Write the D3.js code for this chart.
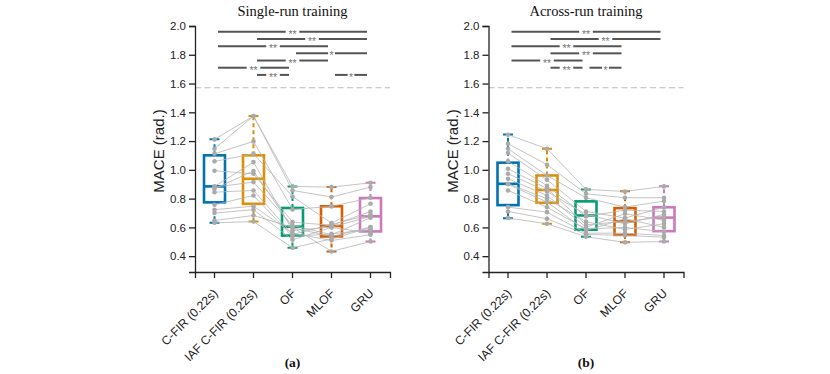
<!DOCTYPE html>
<html>
<head>
<meta charset="utf-8">
<script src="https://cdn.jsdelivr.net/npm/d3@7"></script>
<style>
  body { margin: 0; background: #fff; }
  svg { display: block; font-family: 'Liberation Sans', Arial, sans-serif; }
</style>
</head>
<body>
<div id="chart"></div>
<script>
// categories and tick values
var categories = ['C-FIR (0.22s)', 'IAF C-FIR (0.22s)', 'OF', 'MLOF', 'GRU'];
var yTicks = [0.4, 0.6, 0.8, 1.0, 1.2, 1.4, 1.6, 1.8, 2.0];
var chanceLevel = Math.PI / 2;

// single-run training: one row per subject, one value per category
var singleSubjects = [
    [1.212, 1.374, 0.885, 0.880, 0.910],
    [1.147, 1.374, 0.857, 0.811, 0.880],
    [1.112, 1.198, 0.725, 0.746, 0.806],
    [1.059, 1.112, 0.815, 0.630, 0.764],
    [0.994, 0.973, 0.637, 0.614, 0.711],
    [0.885, 1.054, 0.579, 0.602, 0.676],
    [0.880, 0.915, 0.614, 0.549, 0.667],
    [0.869, 0.992, 0.597, 0.537, 0.602],
    [0.845, 0.857, 0.551, 0.620, 0.690],
    [0.757, 0.822, 0.537, 0.555, 0.586],
    [0.723, 0.748, 0.560, 0.509, 0.549],
    [0.700, 0.723, 0.514, 0.600, 0.560],
    [0.648, 0.683, 0.600, 0.433, 0.502],
    [0.632, 0.641, 0.458, 0.520, 0.600]
];
var singleLow  = [0.632, 0.641, 0.458, 0.433, 0.502];
var singleQ1   = [0.774, 0.764, 0.543, 0.537, 0.572];
var singleMed  = [0.885, 0.938, 0.605, 0.610, 0.677];
var singleQ3   = [1.101, 1.101, 0.735, 0.747, 0.804];
var singleHigh = [1.212, 1.374, 0.885, 0.880, 0.910];
var singleSigPairs  = [[0, 4], [1, 4], [0, 3], [2, 4], [1, 3], [0, 2], [1, 2], [3, 4]];
var singleSigStars  = ['**', '**', '**', '*', '**', '**', '**', '*'];
var singleSigLevels = [1.96, 1.91, 1.86, 1.81, 1.76, 1.71, 1.66, 1.66];

// across-run training
var acrossSubjects = [
    [1.244, 1.147, 0.864, 0.850, 0.885],
    [1.182, 1.036, 0.834, 0.806, 0.806],
    [1.147, 0.961, 0.806, 0.741, 0.783],
    [1.117, 0.931, 0.711, 0.665, 0.740],
    [1.059, 0.890, 0.676, 0.720, 0.711],
    [1.008, 0.870, 0.618, 0.642, 0.672],
    [0.973, 0.850, 0.690, 0.625, 0.690],
    [0.938, 0.822, 0.602, 0.695, 0.650],
    [0.903, 0.799, 0.640, 0.586, 0.625],
    [0.900, 0.776, 0.579, 0.660, 0.600],
    [0.857, 0.740, 0.590, 0.600, 0.570],
    [0.741, 0.706, 0.560, 0.560, 0.544],
    [0.711, 0.660, 0.551, 0.544, 0.532],
    [0.665, 0.625, 0.535, 0.496, 0.502]
];
var acrossLow  = [0.664, 0.625, 0.535, 0.496, 0.502];
var acrossQ1   = [0.755, 0.771, 0.584, 0.548, 0.574];
var acrossMed  = [0.903, 0.860, 0.683, 0.643, 0.668];
var acrossQ3   = [1.050, 0.961, 0.781, 0.734, 0.740];
var acrossHigh = [1.246, 1.147, 0.863, 0.851, 0.886];
var acrossSigPairs  = [[0, 4], [1, 4], [0, 3], [1, 3], [0, 2], [1, 2], [2, 3]];
var acrossSigStars  = ['**', '**', '**', '**', '**', '**', '*'];
var acrossSigLevels = [1.96, 1.91, 1.86, 1.81, 1.76, 1.71, 1.71];

var palette = ['#0173b2', '#de8f05', '#029e73', '#d55e00', '#cc78bc'];

var width = 830, height = 374;
var axisBottom = 272;
var boxW = 21;

var svg = d3.select('#chart')
    .append('svg')
    .attr('width', width)
    .attr('height', height);

var y = d3.scaleLinear().domain([0.29, 2.0]).range([axisBottom, 26]);

function drawPanel(left, title, caption, subjects, low, q1, med, q3, high, sigPairs, sigStars, sigLevels) {
    var x = d3.scaleBand().domain(categories).range([left, left + 195]);
    var cx = function(i) { return x(categories[i]) + x.bandwidth() / 2; };
    var g = svg.append('g');
    var idx = d3.range(categories.length);

    // chance level
    g.append('line')
        .attr('x1', left).attr('x2', left + 195)
        .attr('y1', y(chanceLevel)).attr('y2', y(chanceLevel))
        .attr('stroke', '#bbb').attr('stroke-width', 1.2)
        .attr('stroke-dasharray', '6,3.5');

    // whiskers
    var wh = g.append('g').attr('class', 'whiskers');
    idx.forEach(function(i) {
        [[q3[i], high[i]], [q1[i], low[i]]].forEach(function(p) {
            wh.append('line')
                .attr('x1', cx(i)).attr('x2', cx(i))
                .attr('y1', y(p[0])).attr('y2', y(p[1]))
                .attr('stroke', palette[i]).attr('stroke-width', 2)
                .attr('stroke-dasharray', '4,3');
            wh.append('line')
                .attr('x1', cx(i) - 5).attr('x2', cx(i) + 5)
                .attr('y1', y(p[1])).attr('y2', y(p[1]))
                .attr('stroke', palette[i]).attr('stroke-width', 2)
                .attr('stroke-dasharray', '3.5,3');
        });
    });

    // boxes
    g.append('g').selectAll('rect')
        .data(idx)
        .enter().append('rect')
        .attr('x', function(i) { return cx(i) - boxW / 2; })
        .attr('width', boxW)
        .attr('y', function(i) { return y(q3[i]); })
        .attr('height', function(i) { return y(q1[i]) - y(q3[i]); })
        .attr('fill', 'none')
        .attr('stroke', function(i) { return palette[i]; })
        .attr('stroke-width', 2.6);

    g.append('g').selectAll('line')
        .data(idx)
        .enter().append('line')
        .attr('x1', function(i) { return cx(i) - boxW / 2; })
        .attr('x2', function(i) { return cx(i) + boxW / 2; })
        .attr('y1', function(i) { return y(med[i]); })
        .attr('y2', function(i) { return y(med[i]); })
        .attr('stroke', function(i) { return palette[i]; })
        .attr('stroke-width', 2.6);

    // subject lines and points
    var line = d3.line()
        .x(function(d, i) { return cx(i); })
        .y(function(d) { return y(d); });

    g.append('g').selectAll('path')
        .data(subjects)
        .enter().append('path')
        .attr('d', line)
        .attr('fill', 'none')
        .attr('stroke', '#b5b5b5')
        .attr('stroke-width', 0.8);

    subjects.forEach(function(row) {
        g.append('g').selectAll('circle')
            .data(row)
            .enter().append('circle')
            .attr('cx', function(d, i) { return cx(i); })
            .attr('cy', function(d) { return y(d); })
            .attr('r', 2.3)
            .attr('fill', '#aaa');
    });

    // significance bars
    var sg = g.append('g');
    sigPairs.forEach(function(p, k) {
        var x1 = cx(p[0]) + 3.5, x2 = cx(p[1]) - 3.5;
        var mid = (x1 + x2) / 2;
        var gap = 3.4 * sigStars[k].length;
        var yy = y(sigLevels[k]);
        [[x1, mid - gap], [mid + gap, x2]].forEach(function(s) {
            sg.append('line')
                .attr('x1', s[0]).attr('x2', s[1])
                .attr('y1', yy).attr('y2', yy)
                .attr('stroke', '#555').attr('stroke-width', 2);
        });
        sg.append('text')
            .attr('x', mid).attr('y', yy + 6)
            .attr('text-anchor', 'middle')
            .attr('font-size', 10.5)
            .attr('fill', '#777')
            .text(sigStars[k]);
    });

    // axes
    var ya = g.append('g')
        .attr('transform', 'translate(' + left + ',0)')
        .call(d3.axisLeft(y).tickValues(yTicks).tickFormat(d3.format('.1f'))
            .tickSizeOuter(0).tickSize(6).tickPadding(3));
    var xa = g.append('g')
        .attr('transform', 'translate(0,' + axisBottom + ')')
        .call(d3.axisBottom(x).tickSizeOuter(0).tickSize(6));
    [ya, xa].forEach(function(a) {
        a.select('.domain').attr('stroke', '#222').attr('stroke-width', 1.3);
        a.selectAll('.tick line').attr('stroke', '#222').attr('stroke-width', 1.3);
        a.selectAll('text').attr('font-size', 11.5).attr('fill', '#222')
            .attr('font-family', "'Liberation Sans', Arial, sans-serif");
    });
    xa.selectAll('.tick text')
        .attr('font-size', 12.2)
        .attr('text-anchor', 'end')
        .attr('dy', '0.35em')
        .attr('x', 0).attr('y', 0)
        .attr('transform', 'translate(1,19) rotate(-45)');

    // y label
    g.append('text')
        .attr('transform', 'translate(' + (left - 31) + ',' + ((axisBottom + 26) / 2 + 2) + ') rotate(-90)')
        .attr('text-anchor', 'middle')
        .attr('font-size', 15)
        .attr('fill', '#222')
        .text('MACE (rad.)');

    // title and caption
    g.append('text')
        .attr('x', left + 97.5).attr('y', 16)
        .attr('text-anchor', 'middle')
        .attr('font-family', "'Liberation Serif', 'Times New Roman', serif")
        .attr('font-size', 14.5)
        .attr('fill', '#111')
        .text(title);
    g.append('text')
        .attr('x', left + 97.5).attr('y', 367)
        .attr('text-anchor', 'middle')
        .attr('font-family', "'Liberation Serif', 'Times New Roman', serif")
        .attr('font-weight', 'bold')
        .attr('font-size', 13.5)
        .attr('fill', '#111')
        .text(caption);
}

drawPanel(195, 'Single-run training', '(a)', singleSubjects,
    singleLow, singleQ1, singleMed, singleQ3, singleHigh,
    singleSigPairs, singleSigStars, singleSigLevels);
drawPanel(488.5, 'Across-run training', '(b)', acrossSubjects,
    acrossLow, acrossQ1, acrossMed, acrossQ3, acrossHigh,
    acrossSigPairs, acrossSigStars, acrossSigLevels);
</script>
</body>
</html>
